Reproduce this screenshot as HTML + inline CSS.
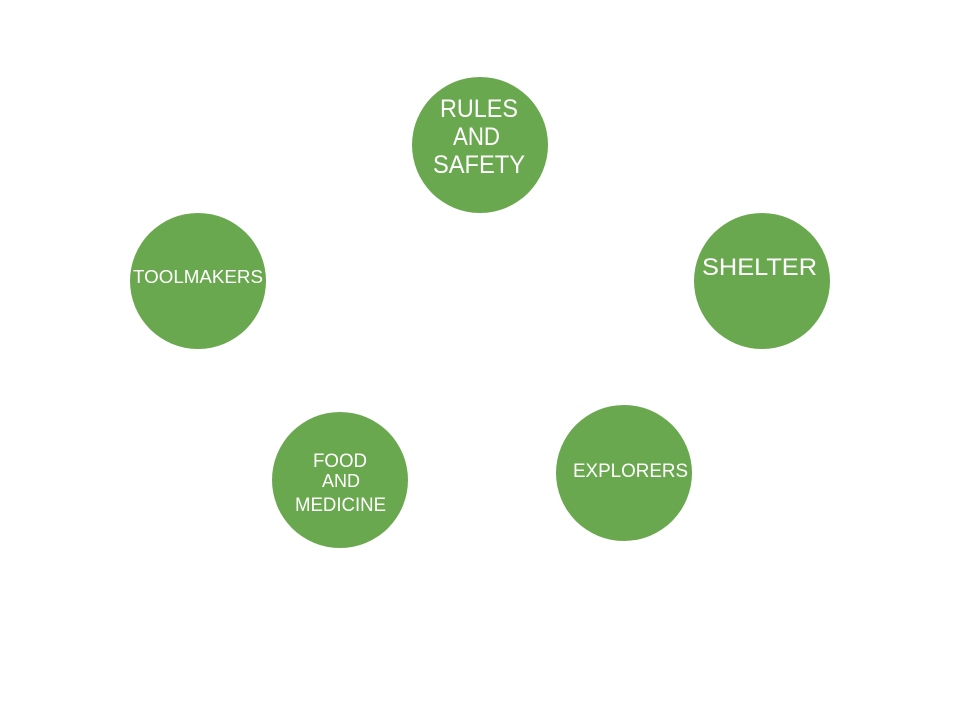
<!DOCTYPE html>
<html>
<head>
<meta charset="utf-8">
<style>
html,body{margin:0;padding:0;background:#fff;}
svg{display:block;}
text{font-family:"Liberation Sans",sans-serif;fill:#fff;}
</style>
</head>
<body>
<svg width="960" height="720" viewBox="0 0 960 720" xmlns="http://www.w3.org/2000/svg">
<rect width="960" height="720" fill="#fff"/>
<g fill="#6aa84f">
<circle cx="480" cy="145" r="68"/>
<circle cx="762" cy="281" r="68"/>
<circle cx="198" cy="281" r="68"/>
<circle cx="340" cy="480" r="68"/>
<circle cx="624" cy="473" r="68"/>
</g>
<text x="440" y="117" font-size="25" textLength="78" lengthAdjust="spacingAndGlyphs">RULES</text>
<text x="453" y="145" font-size="25" textLength="47" lengthAdjust="spacingAndGlyphs">AND</text>
<text x="433" y="173" font-size="25" textLength="92" lengthAdjust="spacingAndGlyphs">SAFETY</text>
<text x="702" y="275" font-size="24" textLength="115" lengthAdjust="spacingAndGlyphs">SHELTER</text>
<text x="133" y="283" font-size="18" textLength="130" lengthAdjust="spacingAndGlyphs">TOOLMAKERS</text>
<text x="313" y="467" font-size="19" textLength="54" lengthAdjust="spacingAndGlyphs">FOOD</text>
<text x="322" y="487" font-size="18" textLength="38" lengthAdjust="spacingAndGlyphs">AND</text>
<text x="295" y="511" font-size="19" textLength="91" lengthAdjust="spacingAndGlyphs">MEDICINE</text>
<text x="573" y="477" font-size="19" textLength="115" lengthAdjust="spacingAndGlyphs">EXPLORERS</text>
</svg>
</body>
</html>
